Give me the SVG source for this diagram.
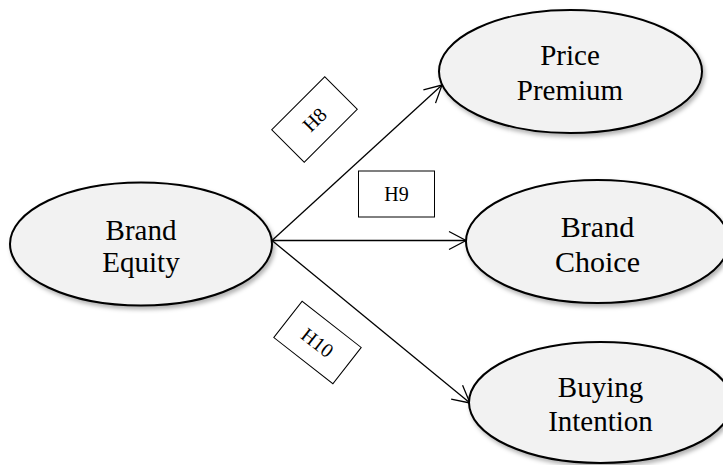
<svg xmlns="http://www.w3.org/2000/svg" width="723" height="465" viewBox="0 0 723 465">
  <style>
    .node ellipse { fill: #f2f2f2; stroke: #000; stroke-width: 2; filter: url(#shadow); }
    .node text { font-family: "Liberation Serif", "Times New Roman", serif; font-size: 29px; fill: #000; text-anchor: middle; }
    .edge { stroke: #000; stroke-width: 1.3; fill: none; marker-end: url(#arrow); }
    .tag rect { fill: #fff; stroke: #000; stroke-width: 1; }
    .tag text { font-family: "Liberation Serif", "Times New Roman", serif; font-size: 20px; fill: #000; text-anchor: middle; dominant-baseline: central; }
  </style>
  <defs>
    <filter id="shadow" x="-10%" y="-15%" width="125%" height="140%">
      <feDropShadow dx="2" dy="3" stdDeviation="2" flood-color="#000" flood-opacity="0.3"/>
    </filter>
    <marker id="arrow" markerUnits="userSpaceOnUse" markerWidth="22" markerHeight="22" viewBox="-19 -11 22 22" refX="0" refY="0" orient="auto">
      <path d="M -17 -9 L 0 0 L -17 9" fill="none" stroke="#000" stroke-width="1.3"/>
    </marker>
  </defs>
  <rect width="723" height="465" fill="#fff"/>

  <!-- connectors -->
  <g id="connectors">
    <line class="edge" x1="272" y1="240.5" x2="442" y2="85"/>
    <line class="edge" x1="272" y1="240.5" x2="466" y2="240.5"/>
    <line class="edge" x1="272" y1="240.5" x2="470" y2="403"/>
  </g>

  <!-- hypothesis labels -->
  <g id="h8" class="tag" transform="translate(314.5 119.5) rotate(-45)">
    <rect x="-37.5" y="-23" width="75" height="46"/>
    <text x="0" y="0">H8</text>
  </g>
  <g id="h9" class="tag" transform="translate(396.5 194)">
    <rect x="-38" y="-23" width="76" height="46"/>
    <text x="0" y="0">H9</text>
  </g>
  <g id="h10" class="tag" transform="translate(317.5 342.5) rotate(38)">
    <rect x="-37.5" y="-23" width="75" height="46"/>
    <text x="0" y="0">H10</text>
  </g>

  <!-- nodes -->
  <g id="brand-equity" class="node">
    <ellipse cx="141" cy="244" rx="131" ry="61.5"/>
    <text x="141" y="240">Brand</text>
    <text x="141" y="272">Equity</text>
  </g>
  <g id="price-premium" class="node">
    <ellipse cx="570.5" cy="71.5" rx="131.5" ry="61.5"/>
    <text x="570" y="65">Price</text>
    <text x="570" y="100">Premium</text>
  </g>
  <g id="brand-choice" class="node">
    <ellipse cx="597.5" cy="241.5" rx="131.5" ry="61.5"/>
    <text x="597.5" y="237" style="font-size:30px">Brand</text>
    <text x="597.5" y="272" style="font-size:30px">Choice</text>
  </g>
  <g id="buying-intention" class="node">
    <ellipse cx="600.5" cy="402.5" rx="131.5" ry="60.5"/>
    <text x="600.5" y="397">Buying</text>
    <text x="600.5" y="431">Intention</text>
  </g>
</svg>
